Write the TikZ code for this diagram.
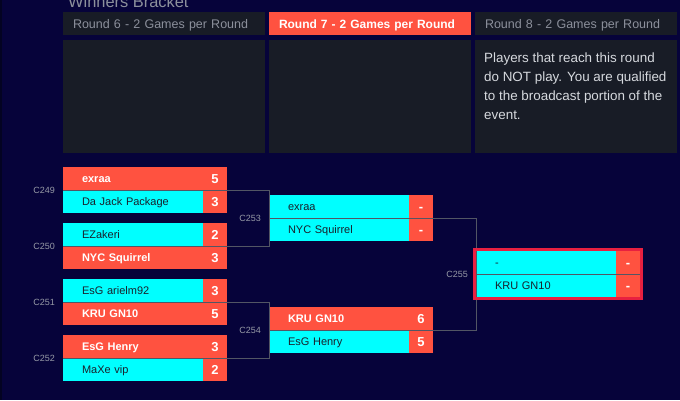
\documentclass[tikz,border=0pt]{standalone}
\usepackage{fontspec}
\setmainfont{Liberation Sans}
\usetikzlibrary{positioning}
\definecolor{bgnavy}{RGB}{6,3,58}
\definecolor{edgec}{RGB}{3,3,34}
\definecolor{panelc}{RGB}{24,28,38}
\definecolor{hotred}{RGB}{255,82,64}
\definecolor{aqua}{RGB}{0,255,255}
\definecolor{wirec}{RGB}{82,86,100}
\definecolor{inkmuted}{RGB}{140,144,156}
\definecolor{tagc}{RGB}{150,154,166}
\definecolor{inkdark}{RGB}{25,33,44}
\definecolor{notec}{RGB}{214,217,222}
\definecolor{framec}{RGB}{232,32,64}

\begin{document}
\begin{tikzpicture}[x=1pt,y=-1pt,
  title/.style={anchor=base west,inner sep=0pt,text=inkmuted,font=\fontsize{16.4}{18}\selectfont},
  hdr/.style={anchor=north west,fill=panelc,text=inkmuted,minimum height=23pt,outer sep=0pt,
    text width=182pt,inner xsep=10pt,inner ysep=0pt,align=left,text height=9pt,text depth=0pt,
    font=\fontsize{12.5}{14}\selectfont},
  hdrlive/.style={hdr,fill=hotred,text=white,font=\fontsize{12}{14}\selectfont\bfseries},
  panel/.style={anchor=north west,fill=panelc,minimum width=202pt,minimum height=113pt,inner sep=0pt},
  note/.style={anchor=north west,inner sep=0pt,align=left,text=notec,font=\fontsize{13.4}{18.7}\selectfont},
  row/.style={anchor=north west,minimum height=23pt,text width=102pt,inner xsep=19pt,inner ysep=0pt,
    outer sep=0pt,align=left,text height=8.5pt,text depth=0pt,font=\fontsize{11}{13}\selectfont},
  rowwin/.style={row,fill=hotred,text=white,font=\fontsize{11}{13}\selectfont\bfseries},
  rowlose/.style={row,fill=aqua,text=inkdark},
  score/.style={anchor=north west,fill=hotred,text=white,minimum width=24pt,minimum height=23pt,
    inner sep=0pt,outer sep=0pt,text height=9.3pt,text depth=0pt,font=\fontsize{13}{15}\selectfont\bfseries},
  tag/.style={text=tagc,inner sep=0pt,font=\fontsize{9}{11}\selectfont},
  wire/.style={draw=wirec,line width=0.9pt},
  frame/.style={draw=framec,line width=3pt}]
\useasboundingbox (0,0) rectangle (680,400);
\fill[bgnavy] (0,0) rectangle (680,400);
\fill[edgec] (0,0) rectangle (2,400);
\node[title] (title) at (68,7) {Winners Bracket};
\foreach \r/\x/\s in {6/63/hdr,7/269/hdrlive,8/475/hdr} {
  \node[\s] (h\r) at (\x,12) {Round \r{} - 2 Games per Round};
  \node[panel] (p\r) at (\x,40) {};
}
\node[note] (note8) at (484,53) {Players that reach this round\\do NOT play. You are qualified\\to the broadcast portion of the\\event.};
\foreach \m/\x/\y/\na/\sa/\ka/\nb/\sb/\kb in {
  249/63/167/exraa/5/rowwin/Da Jack Package/3/rowlose,
  250/63/223/EZakeri/2/rowlose/NYC Squirrel/3/rowwin,
  251/63/279/EsG arielm92/3/rowlose/KRU GN10/5/rowwin,
  252/63/335/EsG Henry/3/rowwin/MaXe vip/2/rowlose,
  253/269/195/exraa/-/rowlose/NYC Squirrel/-/rowlose,
  254/269/307/KRU GN10/6/rowwin/EsG Henry/5/rowlose,
  255/476/251/-/-/rowlose/KRU GN10/-/rowlose} {
  \node[\ka] (n\m a) at (\x,\y) {\na};
  \node[score] (s\m a) at (n\m a.north east) {\sa};
  \node[\kb] (n\m b) at (n\m a.south west) {\nb};
  \node[score] (s\m b) at (n\m b.north east) {\sb};
  \node[tag,left=8pt of n\m a.south west] (c\m) {C\m};
}
\foreach \a/\b/\c in {249/250/253,251/252/254,253/254/255}
  \draw[wire] (n\a a.south west) -- (n\a a.south west-|n\c a.west)
    -- (n\b a.south west-|n\c a.west) -- (n\b a.south west);
\draw[wire] (n255a.south west) -- (s255a.south east);
\draw[frame] ([shift={(-1.5,-1.5)}]n255a.north west) rectangle ([shift={(1.5,1.5)}]s255b.south east);
\end{tikzpicture}
\end{document}
